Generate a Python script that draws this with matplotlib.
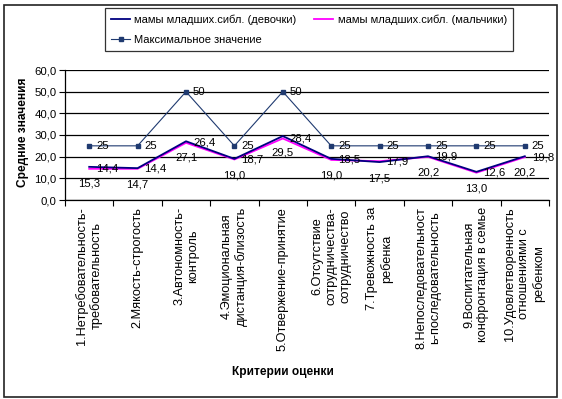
import numpy as np
import matplotlib.pyplot as plt
from matplotlib.patches import Rectangle
from matplotlib.ticker import FuncFormatter, FixedLocator

plt.rcParams['font.family'] = ['Liberation Sans', 'DejaVu Sans']

# Данные
categories = [
    "1.Нетребовательность-\nтребовательность",
    "2.Мякость-строгость",
    "3.Автономность-\nконтроль",
    "4.Эмоциональная\nдистанция-близость",
    "5.Отвержение-принятие",
    "6.Отсутствие\nсотрудничества-\nсотрудничество",
    "7.Тревожность за\nребенка",
    "8.Непоследовательност\nь-последовательность",
    "9.Воспитательная\nконфронтация в семье",
    "10.Удовлетворенность\nотношениями с\nребенком",
]
girls = [15.3, 14.7, 27.1, 19.0, 29.5, 19.0, 17.5, 20.2, 13.0, 20.2]
boys = [14.4, 14.4, 26.4, 18.7, 28.4, 18.5, 17.9, 19.9, 12.6, 19.8]
max_vals = [25, 25, 50, 25, 50, 25, 25, 25, 25, 25]

label_girls = "мамы младших.сибл. (девочки)"
label_boys = "мамы младших.сибл. (мальчики)"
label_max = "Максимальное значение"

W, H = 562, 399
fig = plt.figure(figsize=(W / 100, H / 100), dpi=100)
ax = fig.add_axes([65 / W, 1 - 200 / H, 484 / W, 130 / H])

x = np.arange(len(categories))
fs = 8.2

l_girls, = ax.plot(x, girls, color='#000080', lw=1.3, zorder=3)
l_boys, = ax.plot(x, boys, color='#FF00FF', lw=1.3, zorder=2)
l_max, = ax.plot(x, max_vals, color='#1F3A70', lw=0.8, marker='s',
                 markersize=2.5, zorder=3)

def fmt(v):
    return f"{v:.1f}".replace('.', ',')

for xi, v in zip(x, max_vals):
    ax.annotate(str(v), (xi, v), xytext=(5, 0), textcoords='offset points',
                ha='left', va='center', fontsize=fs)
for xi, v in zip(x, boys):
    ax.annotate(fmt(v), (xi, v), xytext=(5, 0), textcoords='offset points',
                ha='left', va='center', fontsize=fs)
for xi, v in zip(x, girls):
    ax.annotate(fmt(v), (xi, v), xytext=(0, -12), textcoords='offset points',
                ha='center', va='center', fontsize=fs)

ax.set_xlim(-0.5, len(categories) - 0.5)
ax.set_ylim(0, 60)
ax.set_yticks(np.arange(0, 61, 10))
ax.yaxis.set_major_formatter(FuncFormatter(lambda v, p: fmt(v)))
ax.yaxis.grid(True, color='black', lw=0.9)
ax.set_axisbelow(True)

ax.set_xticks(x)
ax.set_xticklabels(categories, rotation=90, va='top', ha='center',
                   multialignment='center', fontsize=9.2)
ax.tick_params(axis='x', length=0, pad=5)
ax.xaxis.set_minor_locator(FixedLocator(np.arange(-0.5, len(categories), 1)))
ax.tick_params(axis='x', which='minor', length=4, direction='out', width=0.8)
ax.tick_params(axis='y', length=4, direction='out', width=0.8, labelsize=fs, pad=2)

for side in ['top', 'right']:
    ax.spines[side].set_visible(False)
for side in ['left', 'bottom']:
    ax.spines[side].set_linewidth(0.9)

fig.text(23 / W, 1 - 132 / H, "Средние значения", rotation=90, ha='center',
         va='center', fontsize=8.6, fontweight='bold')
fig.text(283 / W, 1 - 372 / H, "Критерии оценки", ha='center', va='center',
         fontsize=8.6, fontweight='bold')

leg = fig.legend([l_girls, l_max, l_boys], [label_girls, label_max, label_boys],
                 ncol=2, loc='upper left',
                 bbox_to_anchor=(105 / W, 1 - 8 / H),
                 fontsize=8.0, frameon=True, fancybox=False,
                 handlelength=1.7, handletextpad=0.4, borderaxespad=0,
                 labelspacing=0.9, borderpad=0.55, columnspacing=1.6)
leg.get_frame().set_edgecolor('black')
leg.get_frame().set_linewidth(0.9)

fig.patches.append(Rectangle((4 / W, 2 / H), 553 / W, 392 / H,
                             transform=fig.transFigure, fill=False,
                             edgecolor='#222222', lw=1.2))

fig.savefig("out.png", dpi=100)
